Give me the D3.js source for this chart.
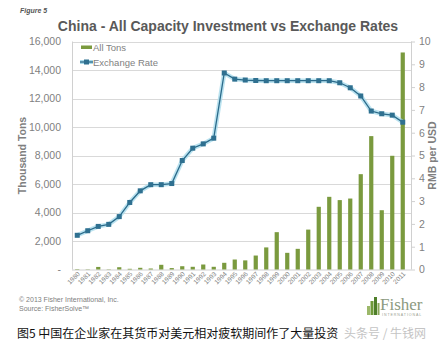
<!DOCTYPE html>
<html><head><meta charset="utf-8">
<script src="https://cdn.jsdelivr.net/npm/d3@7"></script>
<style>
html,body{margin:0;padding:0;background:#fff;}
svg{display:block;}
</style></head>
<body>
<script>
const years = ["1980","1981","1982","1983","1984","1985","1986","1987","1988","1989","1990","1991","1992","1993","1994","1995","1996","1997","1998","1999","2000","2001","2002","2003","2004","2005","2006","2007","2008","2009","2010","2011"];
const allTons = [30,20,180,20,160,50,120,70,330,100,230,190,350,190,470,700,640,980,1550,2620,1170,1450,2800,4400,5100,4870,4980,6690,9360,4160,7980,15230];
const exchangeRate = [1.50,1.70,1.89,1.98,2.32,2.94,3.45,3.72,3.72,3.77,4.78,5.32,5.51,5.76,8.62,8.35,8.31,8.29,8.28,8.28,8.28,8.28,8.28,8.28,8.28,8.19,7.97,7.61,6.95,6.83,6.77,6.46];
const leftTicks = [0,2000,4000,6000,8000,10000,12000,14000,16000];
const rightTicks = [0,1,2,3,4,5,6,7,8,9,10];

const W = 440, H = 349;
const L = 72, R = 411, T = 41.5, B = 269.5;
const svg = d3.select("body").append("svg").attr("width", W).attr("height", H);
const font = "'Liberation Sans', Arial, sans-serif";

const x = d3.scaleBand().domain(years).range([L, 408]).paddingInner(0.6).paddingOuter(0.3);
const yL = d3.scaleLinear().domain([0, 16000]).range([B, T]);
const yR = d3.scaleLinear().domain([0, 10]).range([B, T]);
const cx = d => x(d) + x.bandwidth() / 2;

// figure label
svg.append("text").attr("x", 20).attr("y", 13).attr("font-family", font).attr("font-size", 7)
  .attr("font-style", "italic").attr("font-weight", "bold").attr("fill", "#555").text("Figure 5");

// title
svg.append("text").attr("x", 228).attr("y", 31).attr("text-anchor", "middle").attr("font-family", font)
  .attr("font-size", 14).attr("font-weight", "bold").attr("fill", "#595959")
  .text("China - All Capacity Investment vs Exchange Rates");

// gridlines
svg.append("g").selectAll("line").data(leftTicks.slice(1)).join("line")
  .attr("x1", L).attr("x2", R).attr("y1", d => Math.round(yL(d)) + 0.5).attr("y2", d => Math.round(yL(d)) + 0.5)
  .attr("stroke", "#d9d9d9").attr("stroke-width", 1);
// frame
svg.append("line").attr("x1", L + 0.5).attr("x2", L + 0.5).attr("y1", T).attr("y2", B).attr("stroke", "#d0d0d0");
svg.append("line").attr("x1", L).attr("x2", R).attr("y1", B + 0.5).attr("y2", B + 0.5).attr("stroke", "#d0d0d0");
svg.append("line").attr("x1", R + 0.5).attr("x2", R + 0.5).attr("y1", T).attr("y2", B).attr("stroke", "#d0d0d0");

// left axis
const axL = svg.append("g").attr("transform", `translate(${L},0)`)
  .call(d3.axisLeft(yL).tickValues(leftTicks).tickSize(0).tickPadding(11)
    .tickFormat(d => d === 0 ? "-" : d3.format(",")(d)));
axL.select(".domain").remove();
axL.selectAll("text").attr("font-family", font).attr("font-size", 10.5).attr("fill", "#7f7f7f");

// right axis
const axR = svg.append("g").attr("transform", `translate(${R},0)`)
  .call(d3.axisRight(yR).tickValues(rightTicks).tickSize(4).tickPadding(4));
axR.select(".domain").remove();
axR.selectAll("line").attr("stroke", "#d0d0d0");
axR.selectAll("text").attr("font-family", font).attr("font-size", 10.5).attr("fill", "#7f7f7f");

// axis titles
svg.append("text").attr("transform", `translate(26,155.5) rotate(-90)`).attr("text-anchor", "middle")
  .attr("font-family", font).attr("font-size", 10.5).attr("font-weight", "bold").attr("fill", "#7f7f7f").text("Thousand Tons");
svg.append("text").attr("transform", `translate(436,155.5) rotate(-90)`).attr("text-anchor", "middle")
  .attr("font-family", font).attr("font-size", 10.5).attr("font-weight", "bold").attr("fill", "#7f7f7f").text("RMB per USD");

// bars
svg.append("g").selectAll("rect").data(years).join("rect")
  .attr("x", d => x(d)).attr("width", x.bandwidth())
  .attr("y", (d, i) => yL(allTons[i])).attr("height", (d, i) => B - yL(allTons[i]))
  .attr("fill", "#7a9a3e");

// x labels
svg.append("g").selectAll("text").data(years).join("text")
  .attr("transform", d => `translate(${cx(d) + 3},${B + 5}) rotate(-45)`)
  .attr("text-anchor", "end").attr("font-family", font).attr("font-size", 6.5).attr("fill", "#7f7f7f").text(d => d);

// exchange rate line
const line = d3.line().x((d, i) => cx(years[i])).y(d => yR(d));
svg.append("path").datum(exchangeRate).attr("d", line).attr("fill", "none")
  .attr("stroke", "#a9dbeb").attr("stroke-width", 4.5).attr("stroke-linejoin", "round").attr("opacity", 0.8);
svg.append("path").datum(exchangeRate).attr("d", line).attr("fill", "none")
  .attr("stroke", "#2a6a8a").attr("stroke-width", 1.3);
svg.append("g").selectAll("rect").data(exchangeRate).join("rect")
  .attr("x", (d, i) => cx(years[i]) - 2.5).attr("y", d => yR(d) - 2.5).attr("width", 5).attr("height", 5)
  .attr("fill", "#2f7090");

// legend
const lg = svg.append("g");
lg.append("rect").attr("x", 81).attr("y", 45.5).attr("width", 11).attr("height", 3.5).attr("fill", "#7a9a3e");
lg.append("text").attr("x", 93).attr("y", 51).attr("font-family", font).attr("font-size", 9.5).attr("fill", "#7f7f7f").text("All Tons");
lg.append("line").attr("x1", 80).attr("x2", 93).attr("y1", 62).attr("y2", 62).attr("stroke", "#a9dbeb").attr("stroke-width", 4);
lg.append("line").attr("x1", 80).attr("x2", 93).attr("y1", 62).attr("y2", 62).attr("stroke", "#2a6a8a").attr("stroke-width", 1.3);
lg.append("rect").attr("x", 84).attr("y", 59.5).attr("width", 5).attr("height", 5).attr("fill", "#2f7090");
lg.append("text").attr("x", 93).attr("y", 65.5).attr("font-family", font).attr("font-size", 9.5).attr("fill", "#7f7f7f").text("Exchange Rate");

// footer
svg.append("text").attr("x", 19).attr("y", 302).attr("font-family", font).attr("font-size", 7).attr("fill", "#808080")
  .text("© 2013 Fisher International, Inc.");
svg.append("text").attr("x", 19).attr("y", 311).attr("font-family", font).attr("font-size", 7).attr("fill", "#808080")
  .text("Source: FisherSolve™");

// logo
const logo = svg.append("g");
const lb = [[367,306,3,9,"#9cb86a"],[370.5,301,3,14,"#6f9a3a"],[374,297,3,18,"#4f7f2a"],[377.5,303,2,12,"#8aa85a"]];
lb.forEach(b => logo.append("rect").attr("x", b[0]).attr("y", b[1]).attr("width", b[2]).attr("height", b[3]).attr("fill", b[4]));
logo.append("text").attr("x", 380).attr("y", 310).attr("font-family", "'Liberation Serif', serif").attr("font-size", 17)
  .attr("fill", "#8c9a80").text("Fisher");
logo.append("text").attr("x", 382).attr("y", 315.5).attr("font-family", font).attr("font-size", 3.6)
  .attr("letter-spacing", 0.9).attr("fill", "#9aa090").text("INTERNATIONAL");

// caption
svg.append("text").attr("x", 17).attr("y", 338).attr("font-family", "'Noto Sans CJK SC', sans-serif").attr("font-size", 12)
  .attr("fill", "#111").text("图5 中国在企业家在其货币对美元相对疲软期间作了大量投资");
svg.append("text").attr("x", 344).attr("y", 338).attr("font-family", "'Noto Sans CJK SC', sans-serif").attr("font-size", 12)
  .attr("fill", "#c4c4c4").text("头条号 / 牛钱网");
</script>
</body></html>
